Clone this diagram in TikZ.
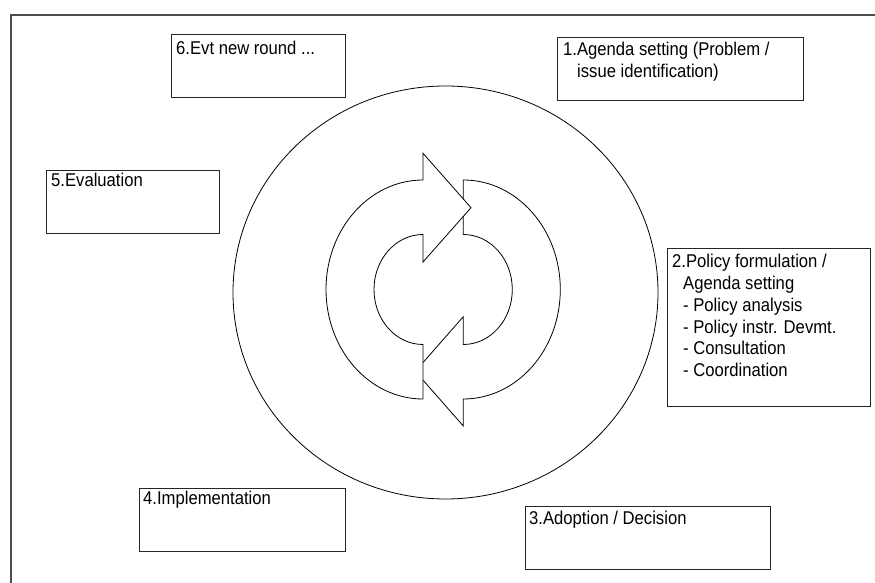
\documentclass[tikz,border=0pt]{standalone}
\usepackage{fontspec}
\setmainfont{Liberation Sans}[FakeStretch=0.9]
\begin{document}
\begin{tikzpicture}[x=1pt,y=1pt,
  stagebox/.style={draw=black!85,line width=0.9pt},
  label/.style={anchor=base west,inner sep=0pt,font=\fontsize{18.5}{21}\selectfont},
  frame/.style={draw=black!70,line width=1.6pt},
  arrowshape/.style={draw=black,line width=0.8pt,fill=white,line join=miter}]
\useasboundingbox (0,0) rectangle (875,583);
% frame
\coordinate (ftl) at (11,568);
\coordinate (ftr) at (875,568);
\coordinate (fbl) at (11,0);
\draw[frame] (fbl) -- (ftl) -- (ftr);
% big circle
\draw[line width=0.8pt] (445.5,290.5) ellipse [x radius=212.5, y radius=206.5];
% right arrow (bottom head, drawn first)
\draw[arrowshape] (463.3,348.5) arc[start angle=90, end angle=-90, x radius=49, y radius=55]
  -- (463.3,266.3) -- (415.3,211.65) -- (463.3,157) -- (463.3,184)
  arc[start angle=-90, end angle=90, x radius=97, y radius=109.5] -- cycle;
% left arrow (top head, on top)
\draw[arrowshape] (423,403) -- (423,429.7) -- (471,375.3) -- (423,321) -- (423,348.5)
  arc[start angle=90, end angle=270, x radius=49, y radius=55]
  -- (423,184) arc[start angle=270, end angle=90, x radius=97, y radius=109.5] -- cycle;
% boxes
\node[stagebox,anchor=south west,minimum width=174pt,minimum height=63pt,inner sep=0pt] (b6) at (171,485) {};
\node[stagebox,anchor=south west,minimum width=246pt,minimum height=63pt,inner sep=0pt] (b1) at (557,482) {};
\node[stagebox,anchor=south west,minimum width=173pt,minimum height=63pt,inner sep=0pt] (b5) at (46,349) {};
\node[stagebox,anchor=south west,minimum width=203pt,minimum height=158pt,inner sep=0pt] (b2) at (667,176) {};
\node[stagebox,anchor=south west,minimum width=206pt,minimum height=63pt,inner sep=0pt] (b4) at (139,31) {};
\node[stagebox,anchor=south west,minimum width=245pt,minimum height=63pt,inner sep=0pt] (b3) at (525,13) {};
% texts
\node[label] (t6) at (176,528) {6.Evt new round ...};
\node[label] (t1a) at (563,527.5) {1.Agenda setting (Problem /};
\node[label] (t1b) at (577,505.5) {issue identification)};
\node[label] (t5) at (51,396.3) {5.Evaluation};
\node[label] (t2a) at (672,315) {2.Policy formulation /};
\node[label] (t2b) at (683,293.3) {Agenda setting};
\node[label] (t2c) at (683,271.6) {- Policy analysis};
\node[label] (t2d) at (683,249.9) {- Policy instr. Devmt.};
\node[label] (t2e) at (683,228.2) {- Consultation};
\node[label] (t2f) at (683,206.5) {- Coordination};
\node[label] (t4) at (143,78) {4.Implementation};
\node[label] (t3) at (529,58) {3.Adoption / Decision};
\end{tikzpicture}
\end{document}
